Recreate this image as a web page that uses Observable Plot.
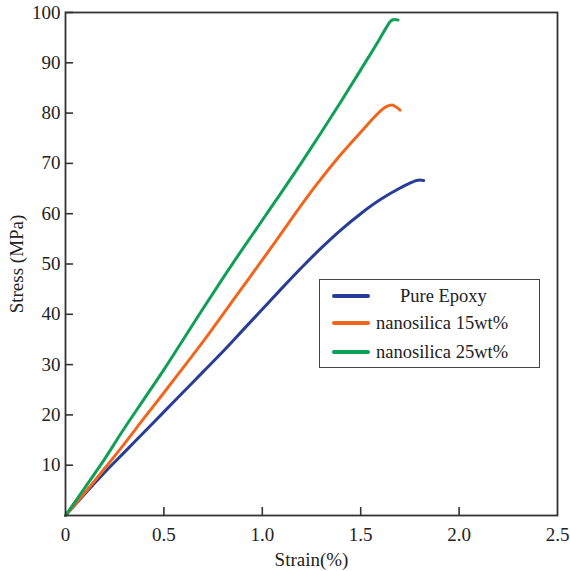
<!DOCTYPE html>
<html><head><meta charset="utf-8">
<script src="https://cdn.jsdelivr.net/npm/d3@7"></script>
<script src="https://cdn.jsdelivr.net/npm/@observablehq/plot@0.6"></script>
<style>
body{margin:0;background:#fff}
#wrap{position:relative;width:570px;height:571px;font-family:"Liberation Serif",serif;color:#222}
#legend{position:absolute;left:319px;top:279px;width:221px;height:89px;border:1.6px solid #444;background:#fff;box-sizing:border-box}
.row{position:absolute;left:0;height:20px;width:100%}
.sw{position:absolute;left:12px;width:38px;height:3.5px;border-radius:2px}
.lab{position:absolute;font-size:18.5px;line-height:20px;white-space:nowrap}
</style>
</head><body><div id="wrap"></div>
<script>
const seriesNames = ["Pure Epoxy", "nanosilica 15wt%", "nanosilica 25wt%"];
const seriesColors = ["#273d96", "#f1661d", "#0f9f56"];

const strainPure = [0,0.1,0.2,0.3,0.4,0.5,0.6,0.7,0.8,0.9,1.0,1.1,1.2,1.3,1.4,1.5,1.6,1.7,1.75,1.8,1.82];
const stressPure = [0,4.4,8.6,12.6,16.6,20.6,24.6,28.6,32.6,36.8,41.0,45.2,49.3,53.2,56.8,60.0,62.8,65.1,66.1,66.7,66.6];

const strain15 = [0,0.1,0.2,0.3,0.4,0.5,0.6,0.7,0.8,0.9,1.0,1.1,1.2,1.26,1.3,1.4,1.5,1.55,1.6,1.63,1.66,1.68,1.7];
const stress15 = [0,4.6,9.4,14.3,19.4,24.4,29.5,34.6,40.0,45.4,50.8,56.3,61.8,65.0,67.0,71.8,76.2,78.4,80.4,81.3,81.6,81.2,80.6];

const strain25 = [0,0.1,0.2,0.28,0.3,0.4,0.5,0.6,0.7,0.8,0.9,1.0,1.1,1.2,1.3,1.4,1.5,1.6,1.63,1.65,1.67,1.69];
const stress25 = [0,5.6,11.3,16.2,17.4,23.2,29.0,35.1,41.2,47.2,53.0,58.7,64.4,70.2,76.2,82.3,88.6,95.0,97.0,98.2,98.6,98.5];

const xTickVals = [0.5,1.0,1.5,2.0];
const xLabelVals = [0,0.5,1.0,1.5,2.0,2.5];
const yTickVals = [10,20,30,40,50,60,70,80,90,100];

const raw = [[strainPure, stressPure], [strain15, stress15], [strain25, stress25]];
const data = raw.flatMap(([xs, ys], i) => xs.map((x, j) => ({series: seriesNames[i], strain: x, stress: ys[j]})));

const fmtX = d => d === 0 ? "0" : d.toFixed(1);

const chart = Plot.plot({
  width: 570, height: 571,
  marginLeft: 65, marginRight: 13, marginTop: 12, marginBottom: 56,
  style: {fontFamily: "Liberation Serif, serif", fontSize: "19px", color: "#222", background: "#fff"},
  x: {domain: [0, 2.5]},
  y: {domain: [0, 100]},
  color: {domain: seriesNames, range: seriesColors},
  marks: [
    Plot.line(data, {x: "strain", y: "stress", z: "series", stroke: "series", strokeWidth: 3, curve: "monotone-x"}),
    Plot.axisX(xTickVals, {tickSize: -8, text: null, stroke: "#333", strokeWidth: 1.6, label: null}),
    Plot.axisX(xLabelVals, {tickSize: 0, tickPadding: 12, tickFormat: fmtX, fill: "#222", label: "Strain(%)", labelAnchor: "center", labelArrow: "none", labelOffset: 50}),
    Plot.axisY(yTickVals, {tickSize: -8, text: null, stroke: "#333", strokeWidth: 1.6, label: null}),
    Plot.axisY(yTickVals, {tickSize: 0, tickPadding: 5, tickFormat: d => String(d), fill: "#222", label: "Stress (MPa)", labelAnchor: "center", labelArrow: "none", labelOffset: 56}),
    Plot.frame({stroke: "#333", strokeWidth: 1.8})
  ]
});
const wrap = document.getElementById("wrap");
wrap.appendChild(chart);

const legend = document.createElement("div");
legend.id = "legend";
const rowTops = [6, 33, 62];
const textLefts = [80, 56, 56];
seriesNames.forEach((name, i) => {
  const row = document.createElement("div");
  row.className = "row";
  row.style.top = rowTops[i] + "px";
  const sw = document.createElement("div");
  sw.className = "sw";
  sw.style.top = "8px";
  sw.style.background = seriesColors[i];
  const lab = document.createElement("div");
  lab.className = "lab";
  lab.style.left = textLefts[i] + "px";
  lab.style.top = "0px";
  lab.textContent = name;
  row.appendChild(sw); row.appendChild(lab);
  legend.appendChild(row);
});
wrap.appendChild(legend);
</script></body></html>
